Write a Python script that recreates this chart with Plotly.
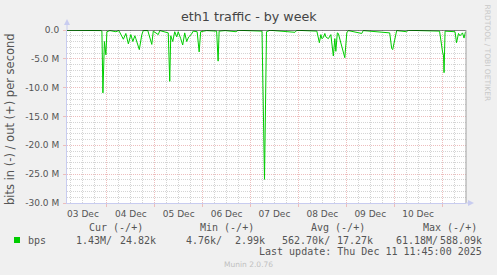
import plotly.graph_objects as go

# ---------------- data ----------------
times = [
    "2025-12-03 04:00", "2025-12-03 10:30", "2025-12-03 18:00", "2025-12-03 21:00", "2025-12-03 21:30",
    "2025-12-03 22:00", "2025-12-03 22:45", "2025-12-03 23:30", "2025-12-04 00:00", "2025-12-04 01:30",
    "2025-12-04 04:30", "2025-12-04 06:00", "2025-12-04 08:15", "2025-12-04 09:30", "2025-12-04 10:45",
    "2025-12-04 12:00", "2025-12-04 13:00", "2025-12-04 14:00", "2025-12-04 14:30", "2025-12-04 16:15",
    "2025-12-04 17:30", "2025-12-04 18:15", "2025-12-04 20:30", "2025-12-04 22:30", "2025-12-04 23:15",
    "2025-12-05 01:45", "2025-12-05 02:30", "2025-12-05 06:45", "2025-12-05 07:30", "2025-12-05 08:00",
    "2025-12-05 09:00", "2025-12-05 10:00", "2025-12-05 11:00", "2025-12-05 11:45", "2025-12-05 13:00",
    "2025-12-05 14:00", "2025-12-05 15:00", "2025-12-05 16:00", "2025-12-05 17:00", "2025-12-05 18:15",
    "2025-12-05 19:15", "2025-12-05 21:15", "2025-12-05 22:15", "2025-12-05 23:00", "2025-12-06 02:00",
    "2025-12-06 07:00", "2025-12-06 07:45", "2025-12-06 08:15", "2025-12-06 11:15", "2025-12-06 16:45",
    "2025-12-06 17:45", "2025-12-06 23:45", "2025-12-07 05:45", "2025-12-07 07:00", "2025-12-07 08:00",
    "2025-12-07 09:45", "2025-12-07 22:15", "2025-12-07 23:15", "2025-12-08 09:15", "2025-12-08 10:30",
    "2025-12-08 11:15", "2025-12-08 11:45", "2025-12-08 12:30", "2025-12-08 13:15", "2025-12-08 13:45",
    "2025-12-08 15:00", "2025-12-08 16:15", "2025-12-08 17:30", "2025-12-08 18:15", "2025-12-08 18:45",
    "2025-12-08 19:30", "2025-12-08 20:00", "2025-12-08 20:45", "2025-12-08 22:15", "2025-12-08 23:15",
    "2025-12-09 00:15", "2025-12-09 01:00", "2025-12-09 07:45", "2025-12-09 08:30", "2025-12-09 21:45",
    "2025-12-09 22:45", "2025-12-09 23:15", "2025-12-10 00:30", "2025-12-10 01:15", "2025-12-10 06:15",
    "2025-12-10 07:00", "2025-12-10 22:45", "2025-12-10 23:30", "2025-12-11 00:15", "2025-12-11 00:45",
    "2025-12-11 01:00", "2025-12-11 01:30", "2025-12-11 06:30", "2025-12-11 07:15", "2025-12-11 08:15",
    "2025-12-11 09:00", "2025-12-11 10:15", "2025-12-11 11:00", "2025-12-11 11:45",
]
in_mbps = [
    -0.05, -0.05, -0.05, -0.1, -0.2,
    -10.9, -2.0, -4.3, -0.3, -0.1,
    -0.3, -0.1, -1.6, -0.6, -2.4,
    -0.8, -2.0, -1.0, -1.5, -3.4,
    -0.8, -0.1, -0.1, -2.5, -0.2,
    -0.8, -0.1, -0.5, -8.9, -1.0,
    -2.0, -0.3, -1.2, -0.3, -1.5,
    -2.6, -0.5, -2.0, -1.2, -0.8,
    -0.2, -0.3, -3.8, -0.3, -0.1,
    -0.2, -5.4, -0.2, -0.1, -0.3,
    -0.05, -0.1, -0.2, -25.9, -0.3,
    -0.05, -0.4, -0.05, -0.2, -2.2,
    -0.8, -1.5, -1.3, -0.6, -1.2,
    -1.5, -0.8, -4.5, -1.5, -3.7,
    -0.5, -0.6, -1.5, -3.5, -4.8,
    -0.5, -0.1, -0.6, -0.1, -0.5,
    -3.2, -3.4, -1.2, -0.1, -0.3,
    -0.05, -0.2, -2.2, -3.8, -4.5,
    -7.4, -0.2, -0.3, -2.2, -0.6,
    -1.0, -0.5, -1.4, -0.3,
]

x_range = ["2025-12-03 04:00", "2025-12-11 12:00"]
midnights = ["2025-12-04", "2025-12-05", "2025-12-06", "2025-12-07",
             "2025-12-08", "2025-12-09", "2025-12-10", "2025-12-11"]
label_pos = ["2025-12-03 12:00", "2025-12-04 12:00", "2025-12-05 12:00", "2025-12-06 12:00",
             "2025-12-07 12:00", "2025-12-08 12:00", "2025-12-09 12:00", "2025-12-10 12:00"]
label_text = ["03 Dec", "04 Dec", "05 Dec", "06 Dec", "07 Dec", "08 Dec", "09 Dec", "10 Dec"]
y_ticks = [0, -5, -10, -15, -20, -25, -30]
y_text = ["0.0", "-5.0 M", "-10.0 M", "-15.0 M", "-20.0 M", "-25.0 M", "-30.0 M"]

headers = ["Cur (-/+)", "Min (-/+)", "Avg (-/+)", "Max (-/+)"]
in_stats = ["1.43M/", "4.76k/", "562.70k/", "61.18M/"]
out_stats = ["24.82k", "2.99k", "17.27k", "588.09k"]

# ---------------- layout geometry ----------------
W, H = 497, 275
PL, PR, PT, PB = 67, 466, 30, 203

def ax(px):
    return (px - PL) / (PR - PL)

def ay(py):
    return (PB - py) / (PB - PT)

GREEN = "#00CC00"
TXT = "#555555"
MAJ = "#EDBDBD"
MIN = "#D4D4D4"
AXC = "#C8CCF0"

fig = go.Figure()
fig.add_trace(go.Scatter(x=times, y=in_mbps, mode="lines",
                         line=dict(color=GREEN, width=1), hoverinfo="skip",
                         showlegend=False, xaxis="x", yaxis="y"))
fig.add_trace(go.Scatter(x=[], y=[], xaxis="x2", yaxis="y", showlegend=False))

fig.update_layout(
    width=W, height=H,
    margin=dict(l=PL, r=W - PR, t=PT, b=H - PB, pad=0),
    paper_bgcolor="#F0F0F0", plot_bgcolor="#FFFFFF",
    showlegend=False,
    font=dict(family="DejaVu Sans", size=9, color=TXT),
    xaxis=dict(
        type="date", range=x_range, tickvals=midnights, showticklabels=False,
        showgrid=True, gridcolor=MAJ, griddash="1px,1px", gridwidth=1,
        ticks="outside", ticklen=3, tickcolor=MAJ,
        minor=dict(dtick=6 * 3600 * 1000, tick0="2025-12-03 00:00", showgrid=True,
                   gridcolor=MIN, griddash="1px,1px", gridwidth=1, ticks=""),
        showline=True, linecolor=AXC, linewidth=1, zeroline=False, fixedrange=True,
    ),
    xaxis2=dict(
        type="date", range=x_range, overlaying="x", anchor="y", side="bottom",
        tickvals=label_pos, ticktext=label_text, showgrid=False, showline=False,
        ticks="", ticklabelstandoff=4, zeroline=False,
        tickfont=dict(family="DejaVu Sans", size=9, color=TXT),
    ),
    yaxis=dict(
        range=[-30, 0], tickvals=y_ticks, ticktext=y_text,
        showgrid=True, gridcolor=MAJ, griddash="1px,1px", gridwidth=1,
        ticks="outside", ticklen=3, tickcolor=MAJ,
        minor=dict(dtick=1, showgrid=True, gridcolor=MIN, griddash="1px,1px", gridwidth=1, ticks=""),
        showline=True, linecolor=AXC, linewidth=1, zeroline=False,
        tickfont=dict(family="DejaVu Sans", size=9, color=TXT), ticklabelstandoff=2,
    ),
)

shapes = [
    # zero line
    dict(type="line", xref="paper", yref="y", x0=0, x1=1, y0=0, y1=0,
         line=dict(color="#000000", width=1), layer="above"),
    # right border
    dict(type="line", xref="paper", yref="paper", x0=1, x1=1, y0=0, y1=1,
         line=dict(color="#A0A0A0", width=1), layer="above"),
    # left axis extension and arrow
    dict(type="line", xref="paper", yref="paper", x0=0, x1=0, y0=1, y1=ay(24),
         line=dict(color=AXC, width=1)),
    dict(type="path", xref="paper", yref="paper",
         path=f"M {ax(64)} {ay(25)} L {ax(70)} {ay(25)} L {ax(67)} {ay(19)} Z",
         fillcolor=AXC, line=dict(width=0)),
    # bottom axis extension and arrow
    dict(type="line", xref="paper", yref="paper", x0=1, x1=ax(469), y0=0, y1=0,
         line=dict(color=AXC, width=1)),
    dict(type="path", xref="paper", yref="paper",
         path=f"M {ax(468)} {ay(200)} L {ax(468)} {ay(206)} L {ax(474)} {ay(203)} Z",
         fillcolor=AXC, line=dict(width=0)),
    # legend color box
    dict(type="rect", xref="paper", yref="paper",
         x0=ax(14), x1=ax(20), y0=ay(243), y1=ay(237),
         fillcolor=GREEN, line=dict(width=0)),
]

ann = []

def text(px, py, s, size=9, color=TXT, family="DejaVu Sans", xanchor="center", angle=0):
    ann.append(dict(xref="paper", yref="paper", x=ax(px), y=ay(py), text=s,
                    showarrow=False, xanchor=xanchor, yanchor="middle",
                    textangle=angle, borderpad=0,
                    font=dict(family=family, size=size, color=color)))

text(249, 17, "eth1 traffic - by week", size=12.7, color="#444444")
text(10, 119, "bits in (-) / out (+) per second", size=11.5, angle=-90)
text(487.5, 53, "RRDTOOL / TOBI OETIKER", size=7.5, color="#C8C8C8", angle=90)

MONO = "DejaVu Sans Mono"
hdr_centers = [116, 226.5, 338.3, 449.7]
in_right = [113.3, 222.7, 330.7, 439.3]
out_right = [157.3, 266.0, 374.0, 482.7]
for h, c in zip(headers, hdr_centers):
    text(c, 227.3, h, size=10, family=MONO)
text(26.5, 240, "bps", size=10, family=MONO, xanchor="left")
for s, r in zip(in_stats, in_right):
    text(r, 240, s, size=10, family=MONO, xanchor="right")
for s, r in zip(out_stats, out_right):
    text(r, 240, s, size=10, family=MONO, xanchor="right")
text(482.7, 251.7, "Last update: Thu Dec 11 11:45:00 2025", size=10, family=MONO, xanchor="right")
text(248, 264, "Munin 2.0.76", size=7.5, color="#C0C0C0")

fig.update_layout(shapes=shapes, annotations=ann)
fig.write_html("out.html")
